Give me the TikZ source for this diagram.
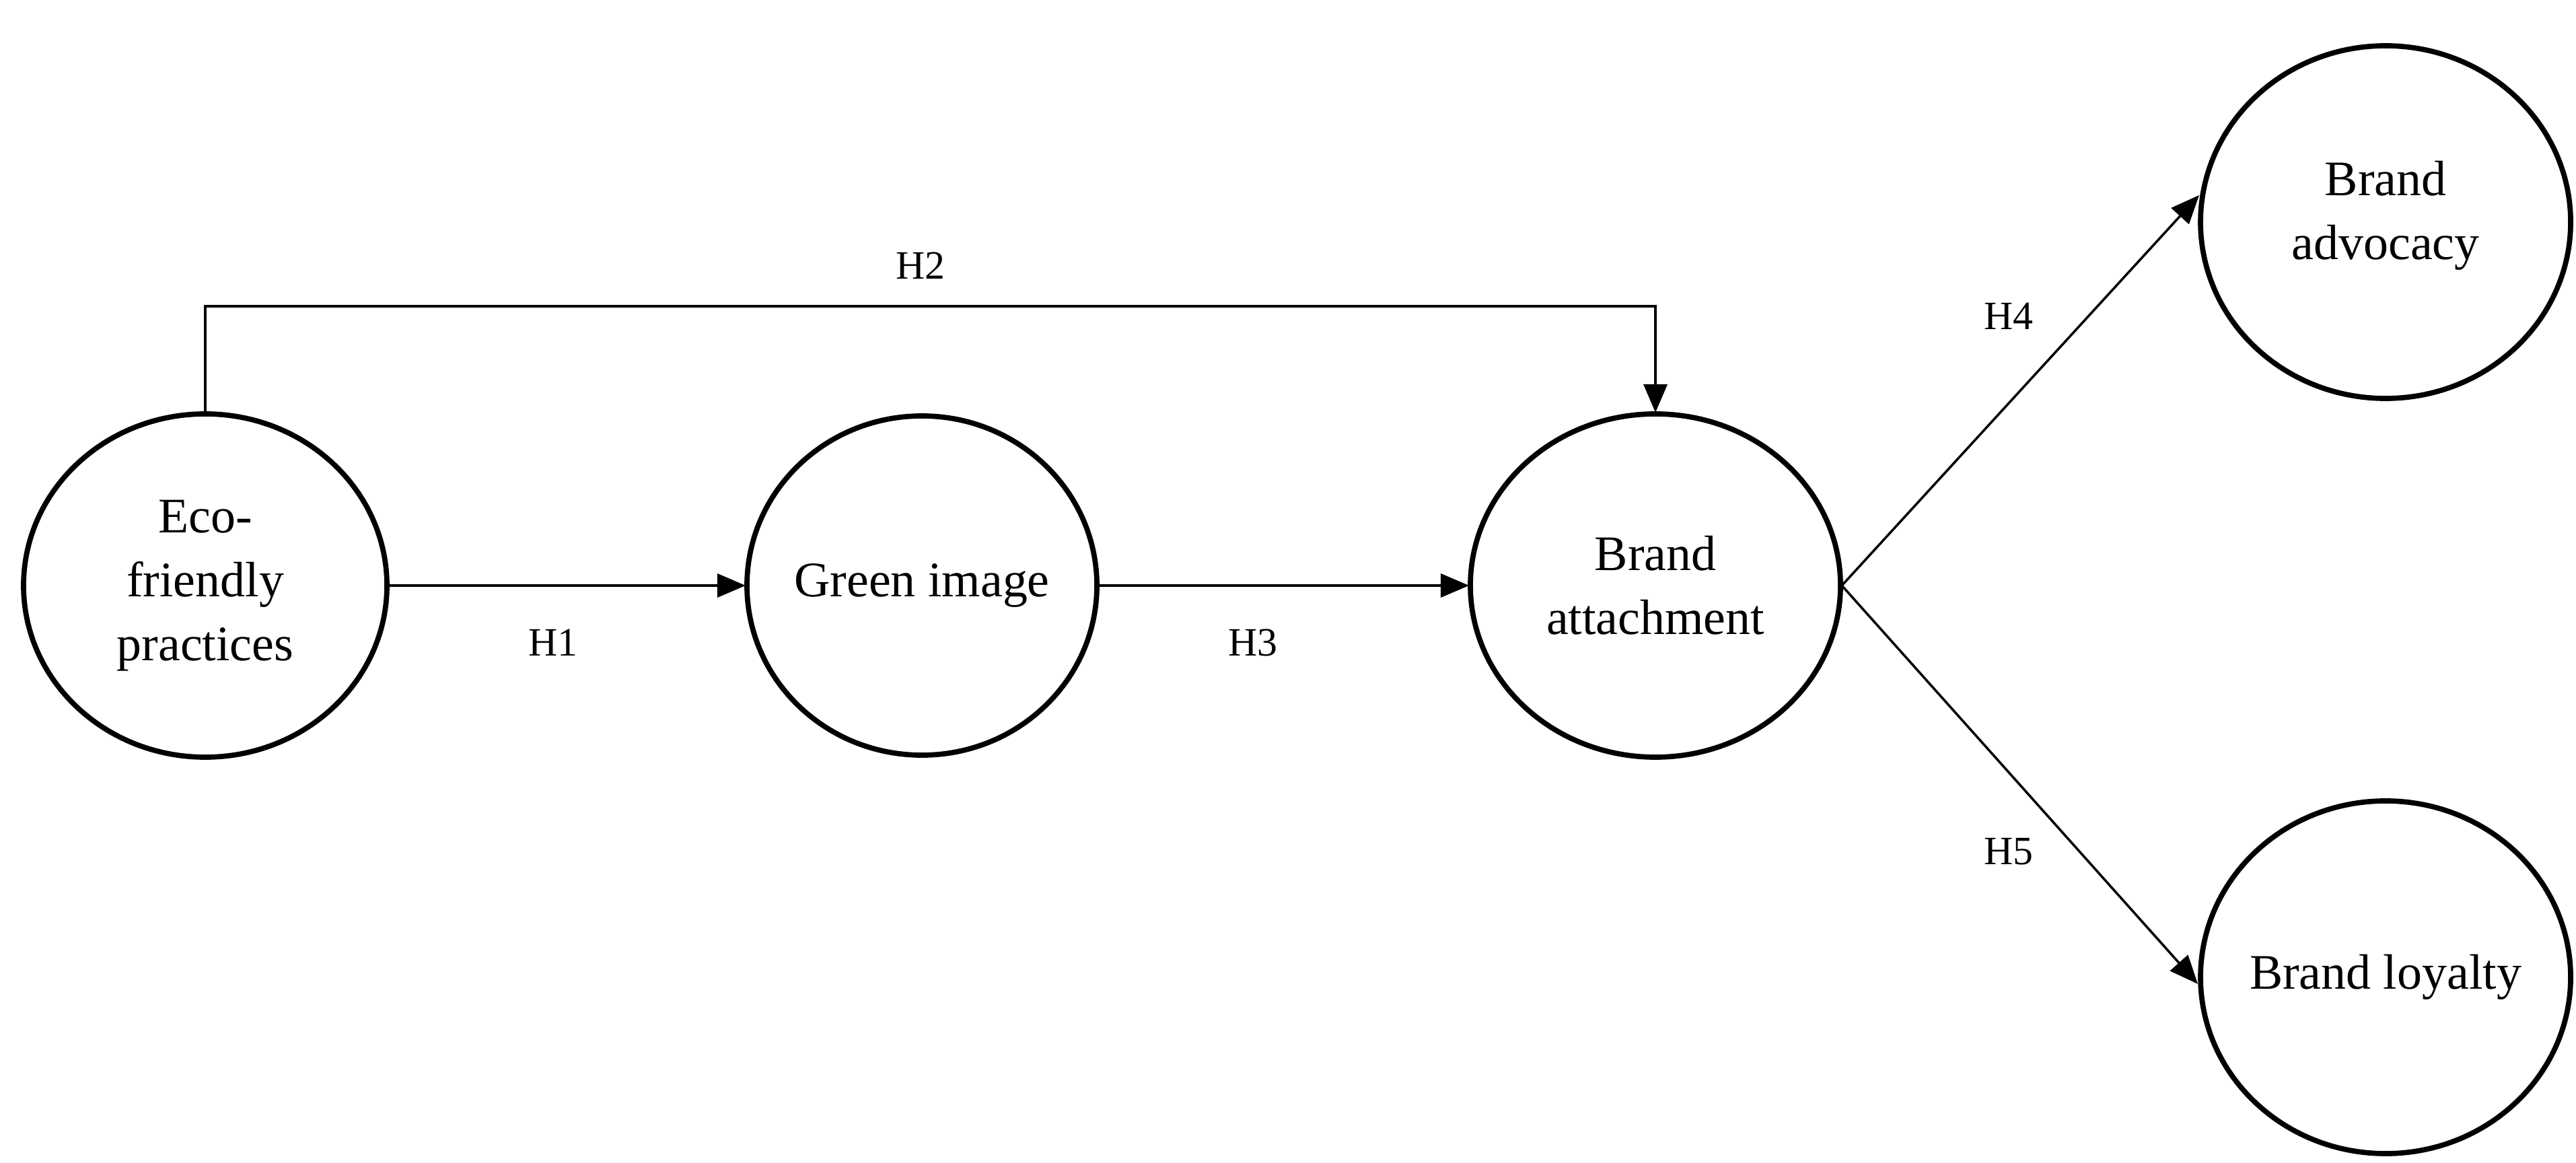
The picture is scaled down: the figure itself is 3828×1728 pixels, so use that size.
\documentclass[tikz,border=0pt]{standalone}
\usepackage{fontspec}
\setmainfont{Liberation Serif}
\usetikzlibrary{arrows.meta}
\begin{document}
\begin{tikzpicture}[x=0.01cm,y=-0.01cm,
  var/.style={draw,line width=2.2pt,ellipse,align=center,font=\fontsize{21}{27}\selectfont},
  conn/.style={line width=1pt,-{Triangle[length=12pt,width=10pt]}},
  lab/.style={font=\fontsize{17}{20}\selectfont}]
\useasboundingbox (0,0) rectangle (3828,1728);
\draw[line width=2.2pt] (305,870) ellipse [x radius=270,y radius=255];
\node[align=center,font=\fontsize{21}{27}\selectfont] (eco) at (305,870) {Eco-\\friendly\\practices};
\draw[line width=2.2pt] (1370,870) ellipse [x radius=260,y radius=252];
\node[font=\fontsize{21}{27}\selectfont] (gi) at (1370,870) {Green image};
\draw[line width=2.2pt] (2460,870) ellipse [x radius=275,y radius=255];
\node[align=center,font=\fontsize{21}{27}\selectfont] (ba) at (2460,870) {Brand\\attachment};
\draw[line width=2.2pt] (3545,330) ellipse [x radius=275,y radius=262];
\node[align=center,font=\fontsize{21}{27}\selectfont] (adv) at (3545,320) {Brand\\advocacy};
\draw[line width=2.2pt] (3545,1452) ellipse [x radius=275,y radius=262];
\node[font=\fontsize{21}{27}\selectfont] (loy) at (3545,1452) {Brand loyalty};
\coordinate (ecoR) at (575,870); \coordinate (giL) at (1108,870);
\coordinate (giR) at (1632,870); \coordinate (baL) at (2183,870);
\coordinate (baR) at (2737,870); \coordinate (ecoT) at (305,613);
\coordinate (baT) at (2460,613); \coordinate (advL) at (3268,290);
\coordinate (loyL) at (3266,1462);
\draw[conn] (ecoR) -- (giL);
\draw[conn] (giR) -- (baL);
\draw[conn] (ecoT) |- (1400,455) -| (baT);
\draw[conn] (baR) -- (advL);
\draw[conn] (baR) -- (loyL);
\node[lab] (h1) at (822,955) {H1};
\node[lab] (h2) at (1368,395) {H2};
\node[lab] (h3) at (1862,955) {H3};
\node[lab] (h4) at (2985,470) {H4};
\node[lab] (h5) at (2985,1265) {H5};
\end{tikzpicture}
\end{document}
